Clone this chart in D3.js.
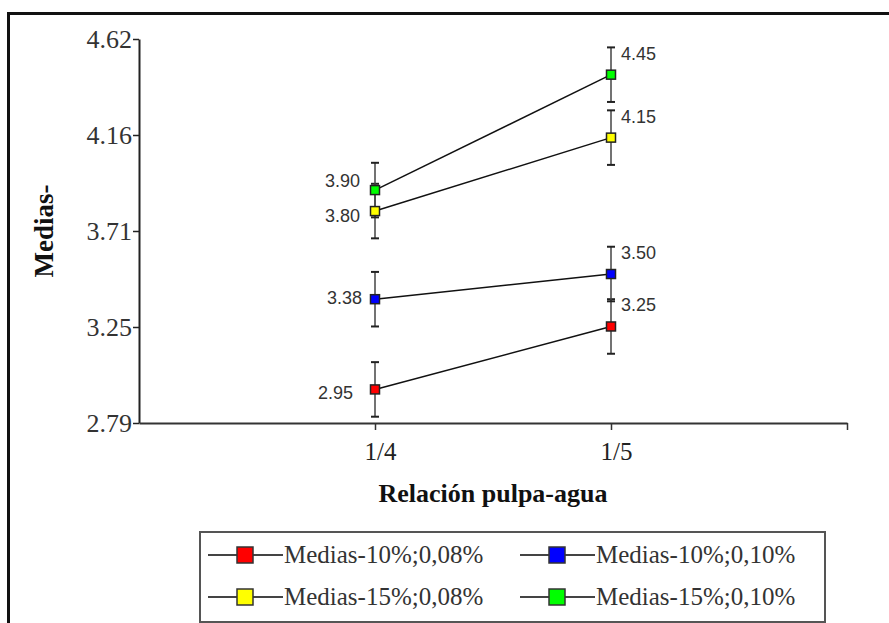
<!DOCTYPE html>
<html>
<head>
<meta charset="utf-8">
<script src="https://cdn.jsdelivr.net/npm/d3@7"></script>
<style>
  html, body { margin: 0; padding: 0; background: #fff; }
  svg { display: block; }
</style>
</head>
<body>
<svg id="chart" width="889" height="623"></svg>
<script>
// Categories on the x axis (pulp/water ratio)
const categories = ["1/4", "1/5"];

// Mean values per treatment
const seriesNames = ["Medias-10%;0,08%", "Medias-10%;0,10%", "Medias-15%;0,08%", "Medias-15%;0,10%"];
const medias10_008 = [2.95, 3.25];
const medias10_010 = [3.38, 3.50];
const medias15_008 = [3.80, 4.15];
const medias15_010 = [3.90, 4.45];

// Half-width of the error bars
const err10_008 = [0.13, 0.13];
const err10_010 = [0.13, 0.13];
const err15_008 = [0.13, 0.13];
const err15_010 = [0.13, 0.13];

// Y axis: domain and printed tick labels
const yDomain = [2.79, 4.62];
const yTickLabels = ["2.79", "3.25", "3.71", "4.16", "4.62"];

const seriesColors = ["#ff0000", "#0000ff", "#ffff00", "#00ff00"];

const series = [
  { name: seriesNames[0], values: medias10_008, errors: err10_008, color: seriesColors[0] },
  { name: seriesNames[1], values: medias10_010, errors: err10_010, color: seriesColors[1] },
  { name: seriesNames[2], values: medias15_008, errors: err15_008, color: seriesColors[2] },
  { name: seriesNames[3], values: medias15_010, errors: err15_010, color: seriesColors[3] }
];

// nudges for the labels on the left-hand points (dx, dy in px)
const leftLabelNudge = [[-22, 3], [-13, -1], [-15, 5], [-15, -9]];

const svg = d3.select("#chart");
const serif = "'Liberation Serif', 'Times New Roman', serif";
const sans = "'Liberation Sans', Arial, sans-serif";

// outer frame
svg.append("rect")
  .attr("x", 8.5).attr("y", 13.5).attr("width", 920).attr("height", 700)
  .attr("fill", "none").attr("stroke", "#111").attr("stroke-width", 3);

const plot = { left: 139, right: 847, top: 39, bottom: 423 };

// x: slots 0..3, categories sit on slots 1 and 2, slot 3 closes the axis
const x = d3.scaleLinear().domain([0, 3]).range([plot.left, plot.right]);
const xPos = i => x(i + 1);
const y = d3.scaleLinear().domain(yDomain).range([plot.bottom, plot.top]);

const yTickValues = yTickLabels.map((_, i) => yDomain[0] + i * (yDomain[1] - yDomain[0]) / (yTickLabels.length - 1));

// Y axis
const yAxis = d3.axisLeft(y)
  .tickValues(yTickValues)
  .tickFormat((d, i) => yTickLabels[i])
  .tickSize(6).tickPadding(1).tickSizeOuter(0);
const gy = svg.append("g").attr("transform", `translate(${plot.left},0)`).call(yAxis);
gy.select(".domain").attr("stroke", "#222").attr("stroke-width", 2);
gy.selectAll(".tick line").attr("stroke", "#222").attr("stroke-width", 1.5);
gy.selectAll(".tick text")
  .attr("font-family", serif).attr("font-size", 26).attr("fill", "#333");

// X axis
const xAxis = d3.axisBottom(x)
  .tickValues([1, 2, 3])
  .tickFormat(d => categories[d - 1] || "")
  .tickSize(7).tickPadding(12).tickSizeOuter(0);
const gx = svg.append("g").attr("transform", `translate(0,${plot.bottom})`).call(xAxis);
gx.select(".domain").attr("stroke", "#333").attr("stroke-width", 2);
gx.selectAll(".tick line").attr("stroke", "#333").attr("stroke-width", 1.5);
gx.selectAll(".tick text")
  .attr("font-family", serif).attr("font-size", 25).attr("fill", "#222").attr("dx", 5);

// axis titles
svg.append("text")
  .attr("x", (plot.left + plot.right) / 2).attr("y", 502)
  .attr("text-anchor", "middle")
  .attr("font-family", serif).attr("font-weight", "bold").attr("font-size", 26).attr("fill", "#111")
  .text("Relación pulpa-agua");

svg.append("text")
  .attr("transform", `translate(53,${(plot.top + plot.bottom) / 2}) rotate(-90)`)
  .attr("text-anchor", "middle")
  .attr("font-family", serif).attr("font-weight", "bold").attr("font-size", 27).attr("fill", "#111")
  .text("Medias-");

// series
const line = d3.line().x((d, i) => xPos(i)).y(d => y(d));
const gSeries = svg.append("g");
const capW = 4;

series.forEach(s => {
  const g = gSeries.append("g");
  // error bars
  s.values.forEach((v, i) => {
    const cx = xPos(i);
    const e = s.errors[i];
    g.append("line").attr("x1", cx).attr("x2", cx).attr("y1", y(v - e)).attr("y2", y(v + e))
      .attr("stroke", "#444").attr("stroke-width", 1.5);
    [v - e, v + e].forEach(t => {
      g.append("line").attr("x1", cx - capW).attr("x2", cx + capW).attr("y1", y(t)).attr("y2", y(t))
        .attr("stroke", "#222").attr("stroke-width", 2);
    });
  });
});

series.forEach(s => {
  gSeries.append("path").datum(s.values)
    .attr("d", line).attr("fill", "none").attr("stroke", "#111").attr("stroke-width", 1.5);
});

series.forEach(s => {
  gSeries.selectAll(null).data(s.values).enter().append("rect")
    .attr("x", (d, i) => xPos(i) - 4.5).attr("y", d => y(d) - 4.5)
    .attr("width", 9).attr("height", 9)
    .attr("fill", s.color).attr("stroke", "#222").attr("stroke-width", 1.5);
});

// value labels
series.forEach((s, si) => {
  // left point: label to the left
  gSeries.append("text")
    .attr("x", xPos(0) + leftLabelNudge[si][0]).attr("y", y(s.values[0]) + leftLabelNudge[si][1])
    .attr("dy", "0.35em").attr("text-anchor", "end")
    .attr("font-family", sans).attr("font-size", 18).attr("fill", "#333")
    .text(s.values[0].toFixed(2));
  // right point: label beside the top of the error bar
  gSeries.append("text")
    .attr("x", xPos(1) + 10).attr("y", y(s.values[1] + s.errors[1]) + 6)
    .attr("dy", "0.35em").attr("text-anchor", "start")
    .attr("font-family", sans).attr("font-size", 18).attr("fill", "#333")
    .text(s.values[1].toFixed(2));
});

// legend
const legend = { x: 200, y: 532, w: 625, h: 90 };
svg.append("rect")
  .attr("x", legend.x).attr("y", legend.y).attr("width", legend.w).attr("height", legend.h)
  .attr("fill", "#fff").attr("stroke", "#555").attr("stroke-width", 2);

const colX = [208, 520];
const rowY = [555, 597];
series.forEach((s, i) => {
  const lx = colX[i % 2];
  const ly = rowY[Math.floor(i / 2)];
  const g = svg.append("g");
  g.append("line").attr("x1", lx).attr("x2", lx + 75).attr("y1", ly).attr("y2", ly)
    .attr("stroke", "#444").attr("stroke-width", 2);
  g.append("rect").attr("x", lx + 29).attr("y", ly - 8).attr("width", 16).attr("height", 16)
    .attr("fill", s.color).attr("stroke", "#333").attr("stroke-width", 1.5);
  g.append("text").attr("x", lx + 76).attr("y", ly).attr("dy", "0.33em")
    .attr("font-family", serif).attr("font-size", 25).attr("fill", "#333")
    .text(s.name);
});
</script>
</body>
</html>
